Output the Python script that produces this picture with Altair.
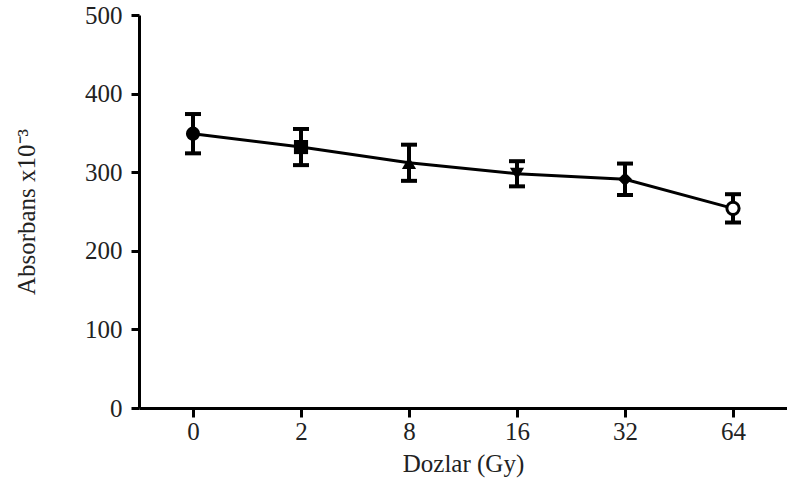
import altair as alt
import pandas as pd

doses = ["0", "2", "8", "16", "32", "64"]
means = [349, 332, 312, 298, 291, 254]
errors = [25, 23, 23, 16, 20, 18]

df = pd.DataFrame({"dose": doses, "mean": means, "err": errors})
df["lo"] = df["mean"] - df["err"]
df["hi"] = df["mean"] + df["err"]

FONT = "Liberation Serif"

x = alt.X(
    "dose:N",
    sort=doses,
    scale=alt.Scale(type="point", padding=0.5),
    axis=alt.Axis(
        title="Dozlar (Gy)",
        labelAngle=0,
        labelFont=FONT,
        labelFontSize=25,
        labelColor="#222",
        titleFont=FONT,
        titleFontSize=25,
        titleFontWeight="normal",
        titleColor="#222",
        tickSize=9,
        tickWidth=3,
        tickColor="black",
        domainWidth=3,
        domainColor="black",
        labelPadding=2,
        titlePadding=7,
        grid=False,
    ),
)

yax = alt.Axis(
    title="Absorbans x10⁻³",
    values=[0, 100, 200, 300, 400, 500],
    labelFont=FONT,
    labelFontSize=25,
    labelColor="#222",
    titleFont=FONT,
    titleFontSize=25,
    titleFontWeight="normal",
    titleColor="#222",
    tickSize=8,
    tickWidth=3,
    tickColor="black",
    domainWidth=3,
    domainColor="black",
    labelPadding=9,
    titlePadding=45,
    grid=False,
)
yscale = alt.Scale(domain=[0, 500], nice=False, zero=True)

base = alt.Chart(df)

line = base.mark_line(color="black", strokeWidth=3).encode(
    x=x, y=alt.Y("mean:Q", scale=yscale, axis=yax)
)

bars = base.mark_rule(color="black", strokeWidth=4, opacity=1).encode(
    x=x, y=alt.Y("lo:Q", scale=yscale), y2="hi:Q"
)

cap_hi = base.mark_tick(color="black", size=16, thickness=4, orient="horizontal", opacity=1).encode(
    x=x, y=alt.Y("hi:Q", scale=yscale)
)
cap_lo = base.mark_tick(color="black", size=16, thickness=4, orient="horizontal", opacity=1).encode(
    x=x, y=alt.Y("lo:Q", scale=yscale)
)

filled = base.transform_filter(alt.datum.dose != "64").mark_point(
    filled=True, color="black", size=200, opacity=1
).encode(
    x=x,
    y=alt.Y("mean:Q", scale=yscale),
    shape=alt.Shape(
        "dose:N",
        scale=alt.Scale(
            domain=["0", "2", "8", "16", "32"],
            range=["circle", "square", "triangle-up", "triangle-down", "diamond"],
        ),
        legend=None,
    ),
)

open_pt = base.transform_filter(alt.datum.dose == "64").mark_point(
    filled=False, color="black", fill="white", fillOpacity=1, size=150, strokeWidth=3, opacity=1, shape="circle"
).encode(x=x, y=alt.Y("mean:Q", scale=yscale))

chart = (
    alt.layer(line, bars, cap_hi, cap_lo, filled, open_pt)
    .properties(
        width=648,
        height=393,
        autosize=alt.AutoSizeParams(type="none"),
        padding={"left": 139, "top": 15, "right": 0, "bottom": 90},
        background="white",
    )
    .configure_view(stroke=None)
)

chart.save("out.html", embed_options={"renderer": "svg", "actions": False})
